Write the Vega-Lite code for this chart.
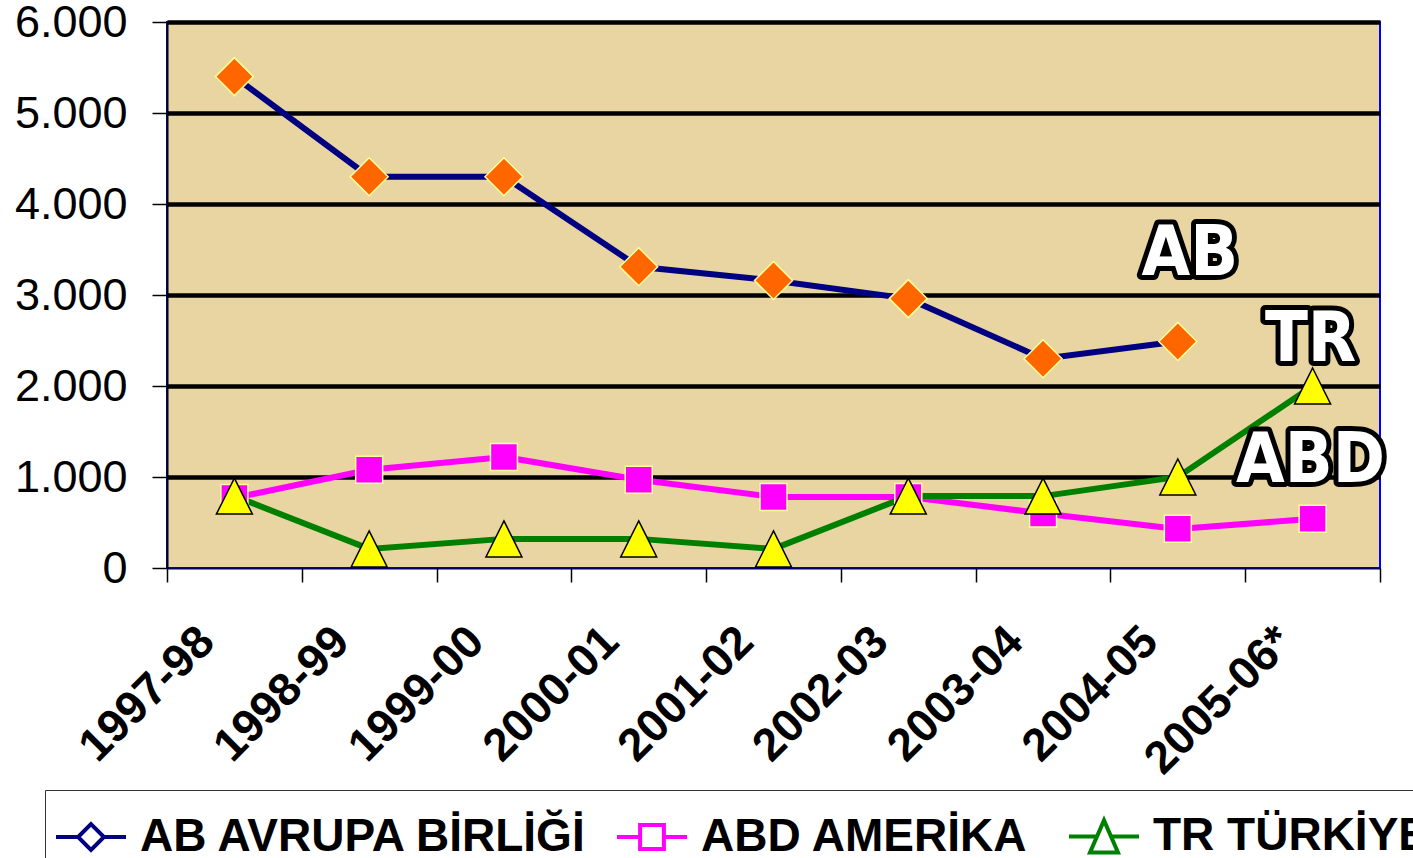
{
  "$schema": "https://vega.github.io/schema/vega-lite/v6.json",
  "width": 1213,
  "height": 546,
  "autosize": {"type": "none"},
  "padding": {"left": 167, "top": 22, "right": 33, "bottom": 290},
  "background": "white",
  "config": {
    "locale": {"number": {"decimal": ",", "thousands": ".", "grouping": [3], "currency": ["", ""]}},
    "view": {"fill": "#E9D5A2", "stroke": "#0000FF", "strokeWidth": 2},
    "font": "Liberation Sans"
  },
  "datasets": {
    "main": [
      {"period": "1997-98", "series": "AB AVRUPA BİRLİĞİ", "code": "AB", "value": 5400},
      {"period": "1998-99", "series": "AB AVRUPA BİRLİĞİ", "code": "AB", "value": 4300},
      {"period": "1999-00", "series": "AB AVRUPA BİRLİĞİ", "code": "AB", "value": 4300},
      {"period": "2000-01", "series": "AB AVRUPA BİRLİĞİ", "code": "AB", "value": 3310},
      {"period": "2001-02", "series": "AB AVRUPA BİRLİĞİ", "code": "AB", "value": 3160},
      {"period": "2002-03", "series": "AB AVRUPA BİRLİĞİ", "code": "AB", "value": 2960},
      {"period": "2003-04", "series": "AB AVRUPA BİRLİĞİ", "code": "AB", "value": 2300},
      {"period": "2004-05", "series": "AB AVRUPA BİRLİĞİ", "code": "AB", "value": 2490},
      {"period": "1997-98", "series": "ABD  AMERİKA", "code": "ABD", "value": 770},
      {"period": "1998-99", "series": "ABD  AMERİKA", "code": "ABD", "value": 1080},
      {"period": "1999-00", "series": "ABD  AMERİKA", "code": "ABD", "value": 1220},
      {"period": "2000-01", "series": "ABD  AMERİKA", "code": "ABD", "value": 970},
      {"period": "2001-02", "series": "ABD  AMERİKA", "code": "ABD", "value": 780},
      {"period": "2002-03", "series": "ABD  AMERİKA", "code": "ABD", "value": 780},
      {"period": "2003-04", "series": "ABD  AMERİKA", "code": "ABD", "value": 600},
      {"period": "2004-05", "series": "ABD  AMERİKA", "code": "ABD", "value": 430},
      {"period": "2005-06*", "series": "ABD  AMERİKA", "code": "ABD", "value": 540},
      {"period": "1997-98", "series": "TR TÜRKİYE", "code": "TR", "value": 790},
      {"period": "1998-99", "series": "TR TÜRKİYE", "code": "TR", "value": 210},
      {"period": "1999-00", "series": "TR TÜRKİYE", "code": "TR", "value": 320},
      {"period": "2000-01", "series": "TR TÜRKİYE", "code": "TR", "value": 320},
      {"period": "2001-02", "series": "TR TÜRKİYE", "code": "TR", "value": 210},
      {"period": "2002-03", "series": "TR TÜRKİYE", "code": "TR", "value": 790},
      {"period": "2003-04", "series": "TR TÜRKİYE", "code": "TR", "value": 790},
      {"period": "2004-05", "series": "TR TÜRKİYE", "code": "TR", "value": 1000},
      {"period": "2005-06*", "series": "TR TÜRKİYE", "code": "TR", "value": 2000}
    ],
    "notes": [
      {"period": "2004-05", "value": 3500, "label": "AB", "code": "AB"},
      {"period": "2005-06*", "value": 2530, "label": "TR", "code": "TR"},
      {"period": "2005-06*", "value": 1200, "label": "ABD", "code": "ABD"}
    ]
  },
  "data": {"name": "main"},
  "encoding": {
    "x": {
      "field": "period", "type": "ordinal",
      "scale": {"domain": ["1997-98", "1998-99", "1999-00", "2000-01", "2001-02", "2002-03", "2003-04", "2004-05", "2005-06*"], "paddingInner": 0, "paddingOuter": 0},
      "axis": {
        "title": null, "tickBand": "extent", "labelAngle": -45, "labelAlign": "right", "labelBaseline": "middle",
        "labelFontSize": 46, "labelFontWeight": "bold", "labelColor": "black", "labelOffset": -28, "labelPadding": 52,
        "labelOverlap": false, "labelFlush": false, "labelBound": false, "labelLimit": 0,
        "tickSize": 14, "tickColor": "black", "tickWidth": 1.5, "domainColor": "#000066", "domainWidth": 2, "grid": false
      }
    },
    "y": {
      "field": "value", "type": "quantitative",
      "scale": {"domain": [0, 6000], "nice": false},
      "axis": {
        "title": null, "values": [0, 1000, 2000, 3000, 4000, 5000, 6000], "format": ",d",
        "labelFontSize": 45, "labelColor": "black", "labelPadding": 25, "labelFlush": false, "labelOverlap": false,
        "tickSize": 15, "tickColor": "black", "tickWidth": 1.5, "domainColor": "black", "domainWidth": 2,
        "grid": true, "gridColor": "black", "gridWidth": 4.5,
        "gridOpacity": {"condition": {"test": "datum.value === 0", "value": 0}, "value": 1}
      }
    }
  },
  "layer": [
    {
      "mark": {"type": "line", "strokeWidth": 6},
      "encoding": {
        "stroke": {"field": "series", "type": "nominal",
          "scale": {"domain": ["AB AVRUPA BİRLİĞİ", "ABD  AMERİKA", "TR TÜRKİYE"], "range": ["#000080", "#FF00FF", "#008000"]}}
      }
    },
    {
      "transform": [{"filter": "datum.code === 'AB'"}],
      "mark": {"type": "point", "shape": "diamond", "filled": true, "fill": "#FF6600", "stroke": "#FFFF99", "strokeWidth": 1.5, "size": 1444, "opacity": 1}
    },
    {
      "transform": [{"filter": "datum.code === 'ABD'"}],
      "mark": {"type": "point", "shape": "square", "filled": true, "fill": "#FF00FF", "stroke": "#FFFF99", "strokeWidth": 1.5, "size": 729, "opacity": 1}
    },
    {
      "transform": [{"filter": "datum.code === 'TR'"}],
      "mark": {"type": "point", "shape": "M0,-1L1,1L-1,1Z", "filled": true, "fill": "#FFFF00", "stroke": "black", "strokeWidth": 1.5, "size": 1296, "opacity": 1}
    },
    {
      "data": {"name": "notes"},
      "transform": [{"filter": "datum.code === 'AB'"}],
      "mark": {"type": "text", "font": "DejaVu Sans Condensed, Liberation Sans", "fontWeight": "bold", "fontSize": 70, "baseline": "middle", "dx": 12, "dy": 4, "fill": "black", "stroke": "black", "strokeWidth": 10, "strokeJoin": "round"},
      "encoding": {"text": {"field": "label"}}
    },
    {
      "data": {"name": "notes"},
      "transform": [{"filter": "datum.code !== 'AB'"}],
      "mark": {"type": "text", "font": "DejaVu Sans Condensed, Liberation Sans", "fontWeight": "bold", "fontSize": 70, "baseline": "middle", "dx": -2, "dy": 2, "fill": "black", "stroke": "black", "strokeWidth": 10, "strokeJoin": "round"},
      "encoding": {"text": {"field": "label"}}
    },
    {
      "data": {"name": "notes"},
      "transform": [{"filter": "datum.code === 'AB'"}],
      "mark": {"type": "text", "font": "DejaVu Sans Condensed, Liberation Sans", "fontWeight": "bold", "fontSize": 70, "baseline": "middle", "dx": 12, "dy": 4, "fill": "white"},
      "encoding": {"text": {"field": "label"}}
    },
    {
      "data": {"name": "notes"},
      "transform": [{"filter": "datum.code !== 'AB'"}],
      "mark": {"type": "text", "font": "DejaVu Sans Condensed, Liberation Sans", "fontWeight": "bold", "fontSize": 70, "baseline": "middle", "dx": -2, "dy": 2, "fill": "white"},
      "encoding": {"text": {"field": "label"}}
    },
    {
      "mark": {"type": "point", "filled": true, "size": 4900, "strokeWidth": 4, "opacity": 0},
      "encoding": {
        "shape": {"field": "series", "type": "nominal",
          "scale": {"domain": ["AB AVRUPA BİRLİĞİ", "ABD  AMERİKA", "TR TÜRKİYE"],
            "range": ["M-1,0L-0.37,0M0.37,0L1,0M0,-0.37L0.37,0L0,0.37L-0.37,0Z", "M-1,0L-0.34,0M0.34,0L1,0M-0.34,-0.34L0.34,-0.34L0.34,0.34L-0.34,0.34Z", "M-1,0L-0.2,0M0.2,0L1,0M0,-0.46L0.4,0.46L-0.4,0.46Z"]},
          "legend": {"orient": "none", "legendX": -122, "legendY": 768, "title": null, "direction": "horizontal",
            "labelFont": "Liberation Sans", "labelFontSize": 46, "labelFontWeight": "bold", "labelColor": "black", "labelLimit": 0,
            "symbolSize": 4900, "symbolStrokeWidth": 4, "symbolOpacity": 1, "labelOffset": 12, "columnPadding": 20,
            "padding": 9, "strokeColor": "#333333", "fillColor": "white"}},
        "fill": {"field": "series", "type": "nominal",
          "scale": {"domain": ["AB AVRUPA BİRLİĞİ", "ABD  AMERİKA", "TR TÜRKİYE"], "range": ["#FF6600", "#FF00FF", "#FFFF00"]}},
        "stroke": {"field": "series", "type": "nominal"}
      }
    }
  ]
}
